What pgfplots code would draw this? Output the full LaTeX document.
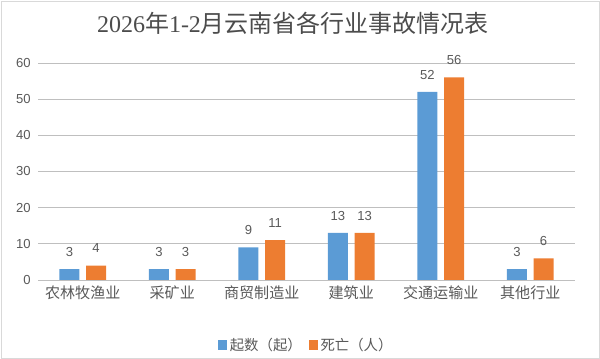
\documentclass[border=0pt]{standalone}
\usepackage{fontspec}
\setmainfont{Liberation Sans}
\newfontfamily\cjk{Noto Sans CJK SC}
\newfontfamily\serif{Liberation Serif}
\usepackage{pgfplots}
\pgfplotsset{compat=1.18}
\definecolor{cblue}{HTML}{5B9BD5}
\definecolor{corange}{HTML}{ED7D31}
\definecolor{txt}{HTML}{595959}
\definecolor{grid}{HTML}{D9D9D9}
\begin{document}
\begin{tikzpicture}[x=0.75pt,y=0.75pt]
\useasboundingbox (0,0) rectangle (600,359);
\draw[grid, line width=0.6pt] (1,1) rectangle (599,358);
\node[text=black!70, font=\fontsize{18}{20}\selectfont] at (293,336) {{\serif 2026}{\cjk 年}{\serif 1-2}{\cjk 月云南省各行业事故情况表}};
\begin{axis}[
  at={(38*0.75pt,79*0.75pt)}, anchor=south west,
  scale only axis, width=402.75pt, height=162.75pt,
  ybar=5pt, bar width=15pt,
  xmin=-0.5, xmax=5.5, ymin=0, ymax=60,
  ytick={0,10,...,60},
  xtick={0,1,2,3,4,5},
  xticklabels={农林牧渔业,采矿业,商贸制造业,建筑业,交通运输业,其他行业},
  x tick label style={font=\cjk\fontsize{11.3}{13}\selectfont, text=txt, yshift=-1pt},
  y tick label style={font=\fontsize{9.8}{11}\selectfont, text=txt, xshift=-2pt},
  /pgf/number format/assume math mode=true,
  ymajorgrids, xmajorgrids=false, grid style={grid, line width=0.6pt},
  axis line style={draw=none},
  major tick length=0pt,
  nodes near coords,
  nodes near coords style={font=\fontsize{9.8}{11}\selectfont, text=txt, yshift=6pt},
  legend style={at={(0.5,-0.24)}, anchor=north, draw=none, legend columns=2, font=\cjk\fontsize{10.8}{12}\selectfont, text=txt, /tikz/every even column/.append style={column sep=3pt}},
  legend image code/.code={\fill[#1] (0pt,-3.5pt) rectangle (7pt,3.5pt);},
  clip=false,
]
\addplot[fill=cblue, draw=none] coordinates {(0,3) (1,3) (2,9) (3,13) (4,52) (5,3)};
\addplot[fill=corange, draw=none] coordinates {(0,4) (1,3) (2,11) (3,13) (4,56) (5,6)};
\legend{起数（起）,死亡（人）}
\end{axis}
\end{tikzpicture}
\end{document}
